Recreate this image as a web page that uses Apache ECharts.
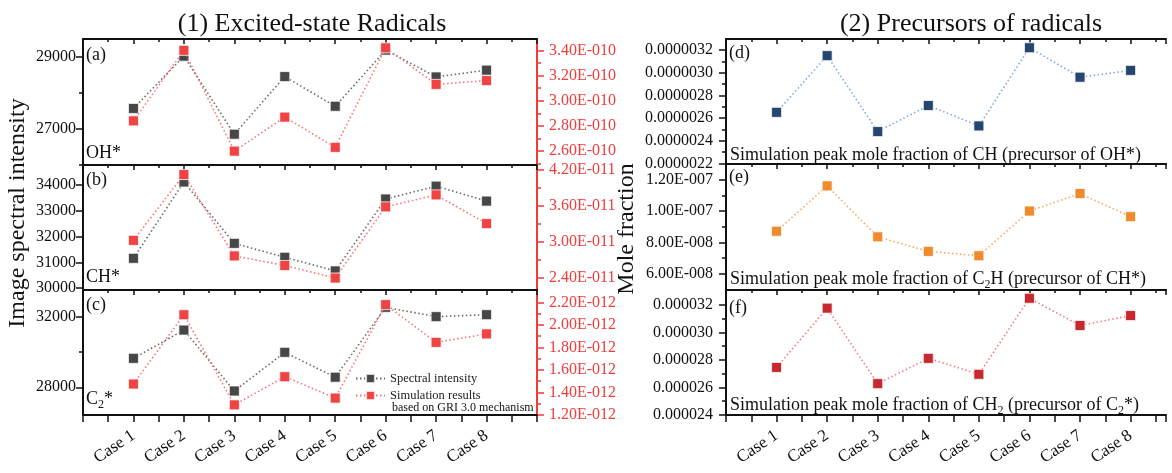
<!DOCTYPE html>
<html>
<head>
<meta charset="utf-8">
<script src="https://cdn.jsdelivr.net/npm/echarts@6/dist/echarts.min.js"></script>
<style>
html, body { margin: 0; padding: 0; background: #fff; }
#chart { width: 1172px; height: 473px; }
</style>
</head>
<body>
<div id="chart"></div>
<script>
// x categories
const cases = ['Case 1', 'Case 2', 'Case 3', 'Case 4', 'Case 5', 'Case 6', 'Case 7', 'Case 8'];

// (1) excited-state radicals: spectral intensity (left axis) and simulation (right axis)
const ohSpectral = [27560, 29020, 26840, 28450, 27620, 29190, 28440, 28630];
const ohSim = [2.84e-10, 3.40e-10, 2.60e-10, 2.87e-10, 2.63e-10, 3.42e-10, 3.13e-10, 3.16e-10];
const chSpectral = [31160, 34120, 31740, 31200, 30670, 33460, 33960, 33380];
const chSim = [3.02e-11, 4.12e-11, 2.76e-11, 2.60e-11, 2.39e-11, 3.58e-11, 3.78e-11, 3.30e-11];
const c2Spectral = [29640, 31240, 27790, 29980, 28570, 32530, 32000, 32110];
const c2Sim = [1.475e-12, 2.09e-12, 1.29e-12, 1.54e-12, 1.35e-12, 2.18e-12, 1.845e-12, 1.92e-12];

// (2) precursors: peak mole fractions
const chMole = [2.65e-6, 3.15e-6, 2.48e-6, 2.71e-6, 2.53e-6, 3.22e-6, 2.96e-6, 3.02e-6];
const c2hMole = [8.71e-8, 1.161e-7, 8.35e-8, 7.42e-8, 7.14e-8, 1.00e-7, 1.112e-7, 9.64e-8];
const ch2Mole = [2.746e-5, 3.177e-5, 2.628e-5, 2.812e-5, 2.696e-5, 3.249e-5, 3.051e-5, 3.123e-5];

// tick labels (major) and minor tick positions
const ohTicks = [27000, 29000];
const ohMinor = [26000, 28000];
const ohSimTicks = [2.6e-10, 2.8e-10, 3.0e-10, 3.2e-10, 3.4e-10];
const ohSimMinor = [2.5e-10, 2.7e-10, 2.9e-10, 3.1e-10, 3.3e-10];
const chTicks = [30000, 31000, 32000, 33000, 34000];
const chMinor = [];
const chSimTicks = [2.4e-11, 3.0e-11, 3.6e-11, 4.2e-11];
const chSimMinor = [2.7e-11, 3.3e-11, 3.9e-11];
const c2Ticks = [28000, 32000];
const c2Minor = [30000];
const c2SimTicks = [1.2e-12, 1.4e-12, 1.6e-12, 1.8e-12, 2.0e-12, 2.2e-12];
const c2SimMinor = [1.3e-12, 1.5e-12, 1.7e-12, 1.9e-12, 2.1e-12];
const chMoleTicks = [2.2e-6, 2.4e-6, 2.6e-6, 2.8e-6, 3.0e-6, 3.2e-6];
const chMoleMinor = [2.3e-6, 2.5e-6, 2.7e-6, 2.9e-6, 3.1e-6];
const c2hMoleTicks = [6e-8, 8e-8, 1.0e-7, 1.2e-7];
const c2hMoleMinor = [7e-8, 9e-8, 1.1e-7];
const ch2MoleTicks = [2.4e-5, 2.6e-5, 2.8e-5, 3.0e-5, 3.2e-5];
const ch2MoleMinor = [2.5e-5, 2.7e-5, 2.9e-5, 3.1e-5];

const FONT = '"Liberation Serif", "Times New Roman", serif';
const RED = '#f23b3b';
const BLACK = '#111';

// Origin style exponent: 3.40E-010
function sci(v) {
  const p = v.toExponential(2).split('e');
  const n = parseInt(p[1], 10);
  return p[0] + 'E' + (n < 0 ? '-' : '+') + String(Math.abs(n)).padStart(3, '0');
}

const grids = [], xAxes = [], yAxes = [], series = [];

function addGrid(left, top, width, height) {
  grids.push({ left, top, width, height, outerBoundsMode: 'none' });
  return grids.length - 1;
}

// bottom + mirrored top x axis, returns bottom axis index
function addX(g, max, isLast) {
  const tickStyle = { color: BLACK, width: 1.5 };
  const idx = xAxes.length;
  xAxes.push({
    type: 'value', gridIndex: g, position: 'bottom', min: 0, max: max, interval: 1,
    axisLine: { show: true, onZero: false, lineStyle: { color: BLACK, width: 2 } },
    axisTick: { show: isLast, length: 7, lineStyle: tickStyle },
    minorTick: { show: isLast, splitNumber: 2, length: 7, lineStyle: tickStyle },
    splitLine: { show: false },
    axisLabel: {
      show: isLast, rotate: 34, margin: 19, fontSize: 17, fontFamily: FONT, color: BLACK,
      formatter: v => (v >= 1 && v <= cases.length && v % 1 === 0) ? cases[v - 1] : ''
    }
  });
  xAxes.push({
    type: 'value', gridIndex: g, position: 'top', min: 0, max: max, interval: 1,
    axisLine: { show: true, onZero: false, lineStyle: { color: BLACK, width: 2 } },
    axisTick: { show: true, inside: true, length: 5, lineStyle: tickStyle },
    minorTick: { show: true, splitNumber: 2, length: 3, lineStyle: tickStyle },
    splitLine: { show: false },
    axisLabel: { show: false }
  });
  return idx;
}

// y axis with custom major ticks/labels, plus an overlay axis for the short minor ticks
function addY(g, pos, min, max, major, minor, fmt, color, margin) {
  const idx = yAxes.length;
  yAxes.push({
    type: 'value', gridIndex: g, position: pos, min: min, max: max,
    axisLine: { show: true, onZero: false, lineStyle: { color: color, width: 2 } },
    splitLine: { show: false },
    axisTick: { show: true, customValues: major, length: 7, lineStyle: { color: color, width: 1.5 } },
    axisLabel: { show: true, customValues: major, formatter: fmt, color: color, fontSize: 16, fontFamily: FONT, margin: margin }
  });
  if (minor.length) {
    yAxes.push({
      type: 'value', gridIndex: g, position: pos, min: min, max: max,
      axisLine: { show: false, onZero: false },
      splitLine: { show: false },
      axisTick: { show: true, customValues: minor, length: 4, lineStyle: { color: color, width: 1.5 } },
      axisLabel: { show: false }
    });
  }
  return idx;
}

function addSeries(name, xi, yi, arr, symColor, lineColor, z) {
  series.push({
    name: name, type: 'line', xAxisIndex: xi, yAxisIndex: yi,
    data: arr.map((v, k) => [k + 1, v]),
    symbol: 'rect', symbolSize: 10, clip: false, z: z,
    itemStyle: { color: symColor, borderColor: 'rgba(255,255,255,0.75)', borderWidth: 1 },
    lineStyle: { color: lineColor, width: 1.6, type: [1.5, 2.5] },
    emphasis: { disabled: true }
  });
}

const fmtInt = v => String(Math.round(v));

// left panels (a)(b)(c)
const leftPanels = [
  { top: 39, h: 126, spec: ohSpectral, sim: ohSim, lmin: 25980, lmax: 29500, lt: ohTicks, lm: ohMinor,
    rmin: 2.49e-10, rmax: 3.49e-10, rt: ohSimTicks, rm: ohSimMinor },
  { top: 165, h: 125, spec: chSpectral, sim: chSim, lmin: 29930, lmax: 34780, lt: chTicks, lm: chMinor,
    rmin: 2.19e-11, rmax: 4.28e-11, rt: chSimTicks, rm: chSimMinor },
  { top: 290, h: 125, spec: c2Spectral, sim: c2Sim, lmin: 26430, lmax: 33510, lt: c2Ticks, lm: c2Minor,
    rmin: 1.20e-12, rmax: 2.31e-12, rt: c2SimTicks, rm: c2SimMinor }
];
leftPanels.forEach((p, i) => {
  const g = addGrid(83, p.top, 454, p.h);
  const xi = addX(g, 9, i === 2);
  const yl = addY(g, 'left', p.lmin, p.lmax, p.lt, p.lm, fmtInt, BLACK, 7);
  const yr = addY(g, 'right', p.rmin, p.rmax, p.rt, p.rm, sci, RED, 12);
  addSeries('Spectral intensity', xi, yl, p.spec, '#474747', '#6a6a6a', 3);
  addSeries('Simulation results', xi, yr, p.sim, '#f04343', '#ff7272', 4);
});

// right panels (d)(e)(f)
const rightPanels = [
  { top: 39, h: 125, data: chMole, min: 2.194e-6, max: 3.297e-6, t: chMoleTicks, m: chMoleMinor,
    fmt: v => v.toFixed(7), sym: '#24466f', line: '#7aaae0' },
  { top: 164, h: 126, data: c2hMole, min: 4.95e-8, max: 1.301e-7, t: c2hMoleTicks, m: c2hMoleMinor,
    fmt: sci, sym: '#f08b2d', line: '#f6a85e' },
  { top: 290, h: 125, data: ch2Mole, min: 2.4e-5, max: 3.309e-5, t: ch2MoleTicks, m: ch2MoleMinor,
    fmt: v => v.toFixed(6), sym: '#c8282f', line: '#f47c7c' }
];
rightPanels.forEach((p, i) => {
  const g = addGrid(726, p.top, 440, p.h);
  const xi = addX(g, 8.7, i === 2);
  const yi = addY(g, 'left', p.min, p.max, p.t, p.m, p.fmt, BLACK, 13);
  addSeries('Mole fraction ' + (i + 1), xi, yi, p.data, p.sym, p.line, 3);
});

function label(x, y, text, size, extra) {
  return {
    type: 'text', x: x, y: y, silent: true,
    style: Object.assign({
      text: text, fill: BLACK, fontSize: size, fontFamily: FONT,
      align: 'left', verticalAlign: 'middle'
    }, extra || {})
  };
}
const subRich = { s: { fontSize: 12, fontFamily: FONT, fill: BLACK, padding: [12, 0, 0, 0], verticalAlign: 'bottom' } };

const graphic = [
  label(312, 24, '(1) Excited-state Radicals', 26, { align: 'center' }),
  label(971, 24, '(2) Precursors of radicals', 26, { align: 'center' }),
  Object.assign(label(18, 213, 'Image spectral intensity', 24, { align: 'center' }), { rotation: Math.PI / 2 }),
  Object.assign(label(627, 229, 'Mole fraction', 24, { align: 'center' }), { rotation: Math.PI / 2 }),
  label(86, 55, '(a)', 18),
  label(86, 153, 'OH*', 18),
  label(86, 180, '(b)', 18),
  label(86, 277, 'CH*', 18),
  label(86, 305, '(c)', 18),
  label(86, 399, 'C{s|2}*', 18, { rich: subRich }),
  label(729, 53, '(d)', 18),
  label(730, 155, 'Simulation peak mole fraction of CH (precursor of OH*)', 18),
  label(729, 177, '(e)', 18),
  label(730, 279, 'Simulation peak mole fraction of C{s|2}H (precursor of CH*)', 18, { rich: subRich }),
  label(729, 308, '(f)', 18),
  label(730, 405, 'Simulation peak mole fraction of CH{s|2} (precursor of C{s|2}*)', 18, { rich: subRich }),
  label(392, 408, 'based on GRI 3.0 mechanism', 12)
];

const chart = echarts.init(document.getElementById('chart'));
chart.setOption({
  animation: false,
  backgroundColor: '#fff',
  grid: grids,
  xAxis: xAxes,
  yAxis: yAxes,
  legend: {
    data: ['Spectral intensity', 'Simulation results'],
    orient: 'vertical', left: 355, top: 372, padding: 0,
    itemWidth: 29, itemHeight: 11, itemGap: 4,
    textStyle: { fontFamily: FONT, fontSize: 12.5, color: '#222' },
    selectedMode: false
  },
  graphic: graphic,
  series: series
});
</script>
</body>
</html>
